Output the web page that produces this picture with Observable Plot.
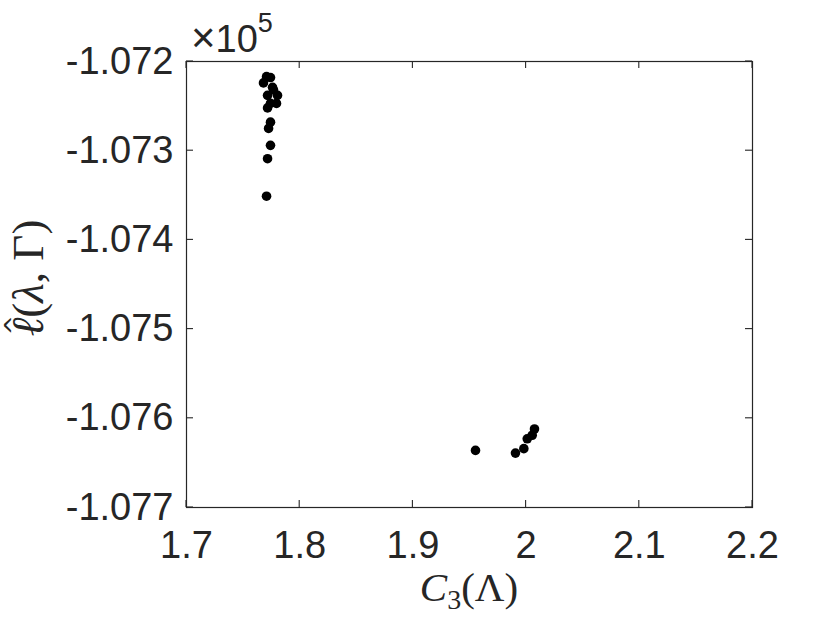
<!DOCTYPE html>
<html>
<head>
<meta charset="utf-8">
<script src="https://cdn.jsdelivr.net/npm/d3@7"></script>
<script src="https://cdn.jsdelivr.net/npm/@observablehq/plot@0.6"></script>
<style>
  html, body { margin: 0; padding: 0; background: #fff; }
  #chart { width: 830px; height: 623px; }
</style>
</head>
<body>
<div id="chart"></div>
<script>
// Data (y values in units of x10^5)
const c3Values = [
  1.7707, 1.7742, 1.7680, 1.7760, 1.7769, 1.7716, 1.7804, 1.7742, 1.7795,
  1.7716, 1.7742, 1.7725, 1.7742, 1.7716, 1.7707,
  1.9553, 1.9906, 1.9980, 2.0010, 2.0054, 2.0074
];
const loglikValues = [
  -1.07217, -1.07218, -1.07224, -1.07229, -1.07232, -1.07238, -1.07238, -1.07247, -1.07247,
  -1.07252, -1.07268, -1.07275, -1.07294, -1.07309, -1.07351,
  -1.07636, -1.07639, -1.07634, -1.07623, -1.07619, -1.07612
];
const xTicks = [1.7, 1.8, 1.9, 2.0, 2.1, 2.2];
const xTickLabels = ["1.7", "1.8", "1.9", "2", "2.1", "2.2"];
const yTicks = [-1.077, -1.076, -1.075, -1.074, -1.073, -1.072];
const yTickLabels = ["-1.077", "-1.076", "-1.075", "-1.074", "-1.073", "-1.072"];
const xDomain = [1.7, 2.2];
const yDomain = [-1.077, -1.072];

(function () {
const points = c3Values.map((x, i) => ({x, y: loglikValues[i]}));
const axisColor = "#262626";
const sans = "'Liberation Sans', Arial, Helvetica, sans-serif";
const serif = "'Liberation Serif', 'DejaVu Serif', serif";
const mL = 186, mR = 78, mT = 61, mB = 116, W = 830, H = 623;

const plot = Plot.plot({
  width: W,
  height: H,
  marginLeft: mL,
  marginRight: mR,
  marginTop: mT,
  marginBottom: mB,
  style: {fontFamily: sans, fontSize: "38px", color: axisColor, background: "white", overflow: "visible"},
  x: {domain: xDomain},
  y: {domain: yDomain},
  marks: [
    Plot.frame({stroke: axisColor, strokeWidth: 1.2}),
    Plot.axisX({ticks: xTicks, tickSize: 0, tickPadding: 24, fontSize: 38, label: null,
      tickFormat: (d) => xTickLabels[xTicks.indexOf(d)]}),
    Plot.axisY({ticks: yTicks, tickSize: 0, tickPadding: 13, fontSize: 38, label: null,
      tickFormat: (d) => yTickLabels[yTicks.indexOf(d)]}),
    Plot.dot(points, {x: "x", y: "y", r: 4.8, fill: "black", stroke: "none"})
  ]
});

document.getElementById("chart").appendChild(plot);

// Inward ticks on all four sides, placed with the plot's own scales
const sx = plot.scale("x"), sy = plot.scale("y");
const svg = d3.select(plot);
const pLeft = mL, pRight = W - mR, pTop = mT, pBottom = H - mB;
const tl = 7;
const g = svg.append("g").attr("stroke", axisColor).attr("stroke-width", 1.1);
xTicks.forEach(v => {
  const px = sx.apply(v);
  g.append("line").attr("x1", px).attr("x2", px).attr("y1", pBottom).attr("y2", pBottom - tl);
  g.append("line").attr("x1", px).attr("x2", px).attr("y1", pTop).attr("y2", pTop + tl);
});
yTicks.forEach(v => {
  const py = sy.apply(v);
  g.append("line").attr("y1", py).attr("y2", py).attr("x1", pLeft).attr("x2", pLeft + tl);
  g.append("line").attr("y1", py).attr("y2", py).attr("x1", pRight).attr("x2", pRight - tl);
});

// Multiplier label
const mult = svg.append("text")
  .attr("x", 191).attr("y", 52).attr("text-anchor", "start")
  .attr("font-family", sans).attr("font-size", 38).attr("fill", axisColor);
mult.append("tspan").attr("font-size", 42).text("×");
mult.append("tspan").text("10");
mult.append("tspan").attr("font-size", 27).attr("dy", -20).text("5");

// X axis label
const xl = svg.append("text")
  .attr("x", (pLeft + pRight) / 2).attr("y", 601)
  .attr("text-anchor", "middle")
  .attr("font-family", serif).attr("font-size", 41).attr("fill", axisColor);
xl.append("tspan").attr("font-style", "italic").text("C");
xl.append("tspan").attr("font-size", 28).attr("dy", 8).text("3");
xl.append("tspan").attr("dy", -8).text("(Λ)");

// Y axis label (rotated); hat drawn as its own glyph over the ℓ
const yg = svg.append("g")
  .attr("transform", `translate(43,${(pTop + pBottom) / 2 - 6}) rotate(-90)`);
const yl = yg.append("text")
  .attr("text-anchor", "start")
  .attr("font-family", serif).attr("font-size", 45).attr("fill", axisColor);
const ell = yl.append("tspan").attr("font-style", "italic").text("ℓ");
yl.append("tspan").text("(");
yl.append("tspan").attr("font-style", "italic").text("λ");
yl.append("tspan").text(", Γ)");
const total = yl.node().getComputedTextLength();
yl.attr("x", -total / 2);
const ellW = ell.node().getComputedTextLength();
yg.append("text")
  .attr("x", -total / 2 + ellW * 0.6).attr("y", -21)
  .attr("text-anchor", "middle")
  .attr("font-family", "'DejaVu Sans', sans-serif").attr("font-size", 24).attr("fill", axisColor)
  .text("^");
})();
</script>
</body>
</html>
